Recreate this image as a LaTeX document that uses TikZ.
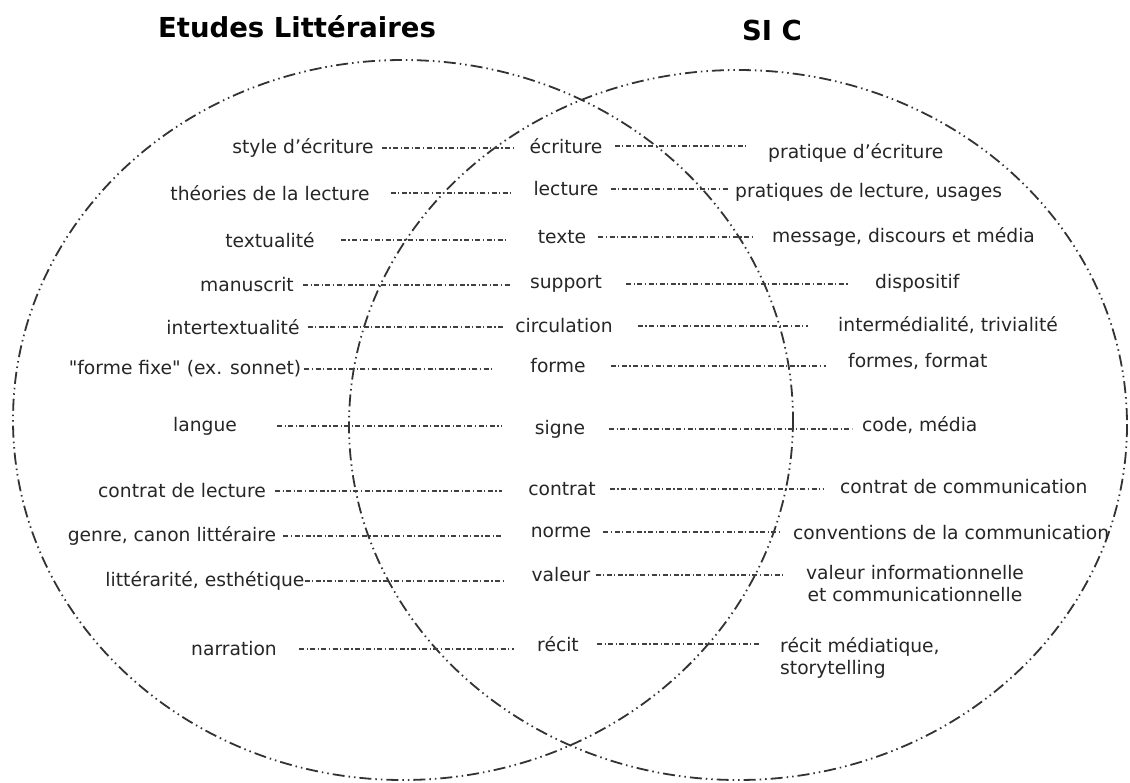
\documentclass[tikz,border=0pt]{standalone}
\usepackage{fontspec}
\setmainfont{DejaVu Sans}[Ligatures=TeXOff]
\usetikzlibrary{calc}
\begin{document}
\begin{tikzpicture}[x=1pt,y=-1pt,
 lab/.style={inner sep=0pt, font=\fontsize{18.7}{22}\selectfont, text=black!85},
 ttl/.style={inner sep=0pt, font=\fontsize{27.5}{32}\selectfont\bfseries},
 ring/.style={draw=black!80, line width=1.8pt, dash pattern=on 12pt off 4pt on 1.5pt off 4pt on 1.5pt off 4pt},
 conn/.style={draw=black!75, line width=1.2pt, dash pattern=on 5pt off 2.5pt on 1.2pt off 2.5pt}]
\useasboundingbox (0,0) rectangle (1130,782);
\fill[white] (0,0) rectangle (1130,782);
% titles
\node[ttl] (tL) at (297,27) {Etudes Littéraires};
\node[ttl] (tR) at (772,30) {SI C};
% ellipses
\draw[ring] (403,420) ellipse [x radius=390, y radius=360];
\draw[ring] (738,425) ellipse [x radius=389, y radius=355];
% left column
\node[lab] (l1) at (303,148) {style d’écriture};
\node[lab] (l2) at (270,193) {théories de la lecture};
\node[lab] (l3) at (270,240) {textualité};
\node[lab] (l4) at (247,285) {manuscrit};
\node[lab] (l5) at (233,327) {intertextualité};
\node[lab] (l6) at (185,369) {"forme fixe" (ex. sonnet)};
\node[lab] (l7) at (205,426) {langue};
\node[lab] (l8) at (182,491) {contrat de lecture};
\node[lab] (l9) at (172,536) {genre, canon littéraire};
\node[lab] (l10) at (205,581) {littérarité, esthétique};
\node[lab] (l11) at (234,649) {narration};
% middle column
\node[lab] (m1) at (566,146) {écriture};
\node[lab] (m2) at (566,189) {lecture};
\node[lab] (m3) at (562,237) {texte};
\node[lab] (m4) at (566,284) {support};
\node[lab] (m5) at (564,326) {circulation};
\node[lab] (m6) at (558,366) {forme};
\node[lab] (m7) at (560,429) {signe};
\node[lab] (m8) at (562,489) {contrat};
\node[lab] (m9) at (561,532) {norme};
\node[lab] (m10) at (561,575) {valeur};
\node[lab] (m11) at (558,644) {récit};
% right column
\node[lab,anchor=west] (r1) at (768,153) {pratique d’écriture};
\node[lab,anchor=west] (r2) at (735,192) {pratiques de lecture, usages};
\node[lab,anchor=west] (r3) at (772,237) {message, discours et média};
\node[lab,anchor=west] (r4) at (875,283) {dispositif};
\node[lab,anchor=west] (r5) at (838,325) {intermédialité, trivialité};
\node[lab,anchor=west] (r6) at (848,361) {formes, format};
\node[lab,anchor=west] (r7) at (862,425) {code, média};
\node[lab,anchor=west] (r8) at (840,487) {contrat de communication};
\node[lab,anchor=west] (r9) at (793,533) {conventions de la communication};
\node[lab,anchor=north,align=center] (r10) at (915,565) {valeur informationnelle\\et communicationnelle};
\node[lab,anchor=north west,align=left] (r11) at (780,637) {récit médiatique,\\storytelling};
% connectors left
\draw[conn] ($(l1.east)+(8,0)$) -- ($(l1.east -| m1.west)+(-16,0)$);
\draw[conn] ($(l2.east)+(21,0)$) -- ($(l2.east -| m2.west)+(-20,0)$);
\draw[conn] ($(l3.east)+(26,0)$) -- ($(l3.east -| m3.west)+(-30,0)$);
\draw[conn] ($(l4.east)+(9,0)$) -- ($(l4.east -| m4.west)+(-18,0)$);
\draw[conn] ($(l5.east)+(8,0)$) -- ($(l5.east -| m5.west)+(-10,0)$);
\draw[conn] ($(l6.east)+(3,0)$) -- ($(l6.east -| m6.west)+(-38,0)$);
\draw[conn] ($(l7.east)+(40,0)$) -- ($(l7.east -| m7.west)+(-33,0)$);
\draw[conn] ($(l8.east)+(9,0)$) -- ($(l8.east -| m8.west)+(-26,0)$);
\draw[conn] ($(l9.east)+(7,0)$) -- ($(l9.east -| m9.west)+(-28,0)$);
\draw[conn] ($(l10.east)+(0,0)$) -- ($(l10.east -| m10.west)+(-28,0)$);
\draw[conn] ($(l11.east)+(22,0)$) -- ($(l11.east -| m11.west)+(-23,0)$);
% connectors right
\draw[conn] ($(m1.east)+(12,0)$) -- ($(m1.east -| r1.west)+(-20,0)$);
\draw[conn] ($(m2.east)+(12,0)$) -- ($(m2.east -| r2.west)+(-7,0)$);
\draw[conn] ($(m3.east)+(12,0)$) -- ($(m3.east -| r3.west)+(-17,0)$);
\draw[conn] ($(m4.east)+(24,0)$) -- ($(m4.east -| r4.west)+(-27,0)$);
\draw[conn] ($(m5.east)+(25,0)$) -- ($(m5.east -| r5.west)+(-30,0)$);
\draw[conn] ($(m6.east)+(25,0)$) -- ($(m6.east -| r6.west)+(-22,0)$);
\draw[conn] ($(m7.east)+(24,0)$) -- ($(m7.east -| r7.west)+(-10,0)$);
\draw[conn] ($(m8.east)+(14,0)$) -- ($(m8.east -| r8.west)+(-17,0)$);
\draw[conn] ($(m9.east)+(12,0)$) -- ($(m9.east -| r9.west)+(-11,0)$);
\draw[conn] ($(m10.east)+(5,0)$) -- ($(m10.east -| r10.west)+(-20,0)$);
\draw[conn] ($(m11.east)+(18,0)$) -- ($(m11.east -| r11.west)+(-20,0)$);
\end{tikzpicture}
\end{document}
